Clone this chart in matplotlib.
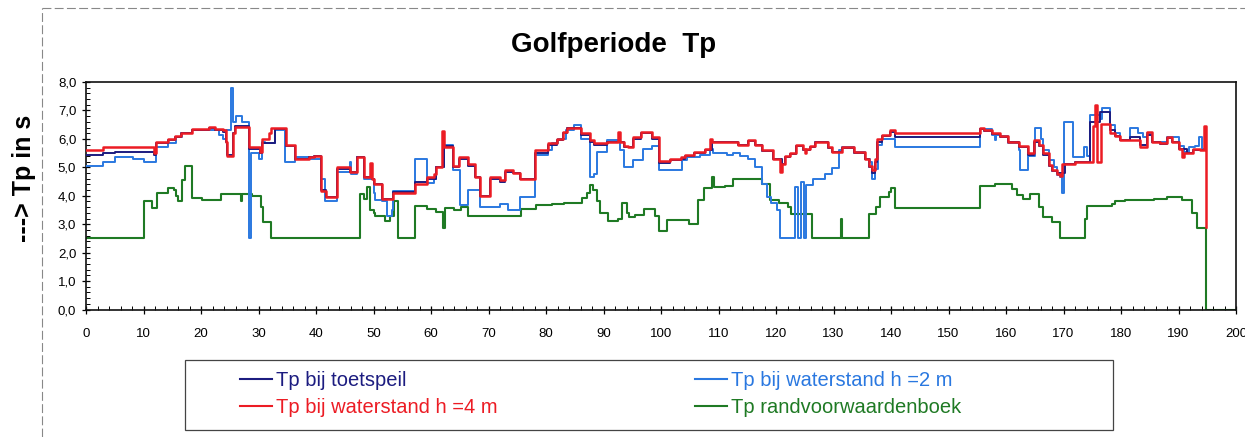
import matplotlib
matplotlib.use('Agg')
import matplotlib.pyplot as plt
from matplotlib.lines import Line2D
from matplotlib.patches import Rectangle
from matplotlib.ticker import MultipleLocator, FuncFormatter

plt.rcParams['font.family'] = ['Liberation Sans', 'DejaVu Sans']

# ---------------- data (step series, value holds from x until next x) ----------------
red_x = [0, 3, 11.8, 12.2, 14.2, 15.4, 16.5, 18.5, 21.4, 22.5, 23.9, 24.3, 24.6, 25.5, 25.9,
         28.4, 30.2, 30.6, 31.8, 32.1, 34.8, 36.3, 38.7, 39.6, 40.8, 41.7, 43.6, 45.9, 47.1,
         48.4, 49.4, 49.7, 50.1, 51.4, 53.4, 57.3, 59.3, 60.5, 60.8, 61.9, 62.2, 63.9, 64.8,
         66.5, 67.7, 68.5, 70.3, 72.0, 72.8, 74.3, 75.5, 78.0, 80.4, 81.9, 83.0, 83.6, 86.0,
         87.7, 88.3, 90.6, 92.6, 92.9, 93.5, 94.3, 95.2, 96.6, 98.4, 99.6, 101.6, 103.4, 104.2,
         105.7, 107.7, 108.5, 108.9, 113.4, 115.2, 116.3, 117.5, 119.5, 120.7, 121.0, 121.5,
         122.4, 123.5, 124.7, 125.0, 125.3, 125.9, 126.8, 129.1, 129.7, 131.4, 133.5, 135.5,
         136.1, 136.7, 137.2, 137.5, 138.4, 139.9, 140.7, 155.5, 156.1, 157.5, 159.0, 160.4,
         162.2, 163.9, 164.8, 165.7, 166.5, 167.4, 168.0, 168.8, 169.4, 169.8, 172.0, 175.1,
         175.5, 175.8, 176.5, 178.1, 179.0, 179.9, 183.3, 184.5, 185.4, 186.8, 188.0, 188.8,
         190.0, 190.6, 190.9, 192.6, 193.8, 194.5, 194.8]
red_y = [5.6, 5.7, 5.5, 5.9, 6.0, 6.1, 6.2, 6.35, 6.42, 6.35, 6.3, 5.9, 5.4, 6.2, 6.42,
         5.7, 5.55, 6.0, 6.2, 6.4, 5.8, 5.3, 5.35, 5.4, 4.15, 3.97, 5.0, 4.85, 5.37,
         4.65, 5.15, 4.6, 4.4, 3.88, 4.1, 4.4, 4.65, 4.75, 5.0, 6.28, 5.7, 5.05, 5.35,
         5.1, 4.65, 4.0, 4.65, 4.55, 4.9, 4.8, 4.6, 5.6, 5.85, 6.0, 6.25, 6.4, 6.2,
         5.95, 5.85, 5.9, 6.25, 5.9, 5.75, 5.7, 6.05, 6.25, 6.05, 5.22, 5.3, 5.35, 5.43,
         5.55, 5.63, 6.0, 5.9, 5.8, 5.95, 5.8, 5.6, 5.3, 4.85, 5.1, 5.4,
         5.5, 5.78, 5.65, 5.5, 5.65, 5.75, 5.9, 5.7, 5.55, 5.7, 5.53, 5.3,
         5.05, 4.9, 5.3, 6.0, 6.15, 6.3, 6.2, 6.37, 6.3, 6.2, 6.1, 5.9,
         5.75, 5.5, 5.96, 5.8, 5.5, 5.08, 4.9, 4.75, 4.7, 5.1, 5.2, 6.45,
         7.2, 5.2, 6.52, 6.2, 6.1, 5.96, 5.72, 6.25, 5.9, 5.85, 6.05, 5.9,
         5.66, 5.35, 5.5, 5.65, 5.6, 6.45, 2.9]

h2_x = [0, 3, 5, 8.2, 10, 12.2, 14.2, 15.7, 16.7, 18.5, 23.2, 23.8, 24.4, 25.2, 25.5, 26.1,
        27.2, 28.4, 28.7, 30.0, 30.6, 31.2, 32.9, 34.6, 36.3, 38.7, 40.9, 41.5, 43.6, 45.9,
        46.1, 47.1, 48.4, 50.0, 50.3, 51.4, 52.3, 53.2, 53.4, 57.3, 59.3, 60.5, 60.8, 62.2,
        63.8, 65.0, 66.5, 68.6, 72.0, 73.4, 75.5, 78.0, 80.4, 81.0, 82.1, 83.4, 84.8, 86.0,
        87.7, 88.3, 88.9, 90.6, 92.9, 93.5, 95.2, 96.9, 98.4, 99.6, 103.7, 104.5, 106.8,
        108.5, 109.1, 111.4, 112.6, 113.7, 115.2, 116.3, 117.5, 118.4, 119.2, 120.1, 120.7,
        123.3, 123.9, 124.4, 124.9, 125.3, 126.5, 128.6, 129.7, 130.9, 131.4, 133.5, 135.5,
        136.4, 136.7, 137.2, 137.8, 138.4, 140.7, 155.5, 157.5, 158.0, 158.3, 159.0, 160.4,
        162.2, 162.5, 163.9, 165.0, 166.0, 166.5, 167.4, 168.3, 168.8, 169.4, 169.7, 170.0,
        171.7, 173.5, 174.0, 174.6, 176.4, 176.7, 178.1, 179.0, 179.9, 181.6, 183.0, 183.9,
        184.5, 185.4, 188.0, 190.0, 190.9, 191.8, 192.9, 193.5, 194.0, 194.8]
h2_y = [5.05, 5.2, 5.35, 5.3, 5.18, 5.72, 5.85, 6.05, 6.2, 6.3, 6.13, 6.0, 6.3, 7.8, 6.6, 6.8,
        6.6, 2.5, 5.5, 5.3, 5.9, 5.85, 6.32, 5.2, 5.37, 5.3, 4.6, 3.8, 4.85, 5.2,
        4.75, 5.35, 4.6, 4.1, 3.85, 3.8, 3.28, 3.5, 4.15, 5.29, 4.45, 4.6, 5.0, 5.78,
        4.9, 3.67, 4.2, 3.62, 3.7, 3.5, 3.96, 5.43, 5.6, 5.85, 6.0, 6.3, 6.48, 6.0,
        4.67, 4.78, 5.55, 5.95, 5.6, 5.0, 5.25, 5.63, 5.75, 4.9, 5.25, 5.35, 5.45,
        5.63, 5.49, 5.45, 5.5, 5.4, 5.3, 5.02, 4.4, 3.96, 3.73, 3.49, 2.5,
        4.3, 2.5, 4.5, 2.5, 4.37, 4.6, 4.78, 4.96, 5.6, 5.7, 5.55, 5.3,
        5.2, 4.6, 4.95, 5.8, 6.0, 5.7, 6.35, 6.15, 5.95, 6.15, 6.1, 5.85,
        5.6, 4.9, 5.4, 6.37, 6.0, 5.6, 5.25, 5.0, 4.72, 4.65, 4.1, 6.6,
        5.37, 5.7, 5.4, 6.85, 6.7, 7.1, 6.5, 6.2, 5.95, 6.37, 6.2, 6.05,
        6.2, 5.9, 6.05, 5.75, 5.55, 5.7, 5.75, 6.05, 5.65, 5.65]

toets_x = [0, 3, 5, 11.8, 12.2, 14.2, 15.4, 16.5, 18.5, 21.4, 22.5, 23.9, 24.3, 24.6, 25.5,
           25.9, 28.4, 30.2, 30.6, 32.9, 34.8, 36.3, 38.7, 39.6, 40.8, 41.7, 43.6, 45.9, 47.1,
           48.4, 49.7, 50.1, 51.4, 53.4, 57.3, 59.3, 60.8, 62.2, 63.9, 64.8, 66.5, 67.7, 68.5,
           70.3, 72.0, 72.8, 74.3, 75.5, 78.0, 80.4, 81.9, 83.0, 83.6, 86.0, 87.7, 88.3, 90.6,
           93.5, 95.2, 96.6, 98.4, 99.6, 101.6, 103.4, 104.2, 105.7, 107.7, 108.9, 113.4, 115.2,
           116.3, 117.5, 119.5, 121.0, 121.5, 122.4, 123.5, 124.7, 125.9, 126.8, 129.1, 129.7,
           131.4, 133.5, 135.5, 136.1, 136.7, 137.2, 137.5, 138.4, 139.9, 140.7, 155.5, 156.1,
           157.5, 159.0, 160.4, 162.2, 163.9, 164.8, 165.7, 166.5, 167.4, 168.0, 168.8, 170.3,
           172.0, 174.6, 176.3, 178.1, 179.0, 179.9, 181.6, 183.3, 184.5, 185.4, 186.8, 188.0,
           188.8, 190.0, 191.4, 192.6, 194.8]
toets_y = [5.45, 5.5, 5.55, 5.45, 5.85, 5.95, 6.05, 6.2, 6.32, 6.38, 6.3, 6.25, 5.9, 5.45, 6.2,
           6.45, 5.65, 5.5, 5.85, 6.35, 5.75, 5.3, 5.35, 5.4, 4.2, 3.97, 4.95, 4.85, 5.35,
           4.65, 4.6, 4.4, 3.88, 4.12, 4.5, 4.6, 5.0, 5.75, 5.0, 5.3, 5.05, 4.65, 4.0,
           4.6, 4.5, 4.85, 4.8, 4.6, 5.5, 5.8, 5.95, 6.2, 6.38, 6.15, 5.9, 5.8, 5.88,
           5.7, 6.0, 6.2, 6.0, 5.15, 5.25, 5.3, 5.4, 5.5, 5.6, 5.88, 5.78, 5.92,
           5.78, 5.58, 5.28, 5.1, 5.38, 5.48, 5.75, 5.62, 5.72, 5.88, 5.68, 5.53,
           5.68, 5.5, 5.28, 5.0, 4.8, 5.2, 5.9, 6.1, 6.25, 6.05, 6.35, 6.28,
           6.18, 6.08, 5.88, 5.72, 5.45, 5.9, 5.75, 5.45, 5.05, 4.88, 4.8, 5.12,
           5.18, 6.6, 6.95, 6.3, 6.1, 5.95, 6.05, 5.8, 6.15, 5.88, 5.82, 6.02,
           5.88, 5.65, 5.5, 5.62, 5.6]

rand_x = [0, 10, 11.5, 12.3, 14.2, 15.3, 15.7, 16.0, 16.7, 17.3, 18.4, 20.2, 23.4, 27.0, 27.2,
          28.9, 30.4, 30.8, 32.1, 47.7, 48.4, 48.8, 49.4, 50.0, 50.3, 52.0, 52.9, 53.5, 54.2,
          57.3, 59.3, 60.8, 62.1, 62.4, 64.0, 65.2, 66.5, 75.6, 78.3, 81.0, 83.1, 86.2, 87.1,
          87.6, 88.2, 88.9, 89.4, 90.7, 92.6, 93.3, 94.1, 94.5, 95.5, 97.0, 99.0, 99.6, 101.1,
          104.8, 106.5, 107.5, 108.8, 109.2, 111.1, 112.5, 117.5, 119.0, 120.6, 122.1, 122.6,
          126.2, 131.3, 131.5, 136.1, 137.4, 138.1, 139.6, 140.0, 140.7, 155.5, 158.1, 161.0,
          161.9, 162.9, 164.2, 165.7, 166.5, 168.0, 169.4, 173.7, 174.1, 178.4, 179.0, 180.7,
          185.7, 188.0, 190.6, 192.3, 193.2, 194.8, 200.0]
rand_y = [2.5, 3.8, 3.58, 4.08, 4.28, 4.2, 4.0, 3.8, 4.55, 5.05, 3.92, 3.85, 4.05, 3.8, 4.05,
          4.0, 3.6, 3.08, 2.5, 4.05, 3.9, 4.3, 3.5, 3.4, 3.28, 3.1, 3.3, 3.8, 2.5,
          3.65, 3.53, 3.42, 2.85, 3.58, 3.5, 3.6, 3.28, 3.55, 3.67, 3.7, 3.75, 3.93, 4.1,
          4.37, 4.2, 3.8, 3.38, 3.1, 3.2, 3.73, 3.4, 3.25, 3.32, 3.55, 3.3, 2.75, 3.14,
          3.0, 3.85, 4.26, 4.65, 4.3, 4.35, 4.6, 4.4, 3.85, 3.75, 3.6, 3.35,
          2.5, 3.2, 2.5, 3.35, 3.6, 3.96, 4.14, 4.26, 3.58, 4.36, 4.4, 4.25,
          4.02, 3.87, 4.05, 3.6, 3.26, 3.08, 2.5, 3.2, 3.65, 3.7, 3.8, 3.85,
          3.9, 3.95, 3.85, 3.4, 2.85, 0.0, 0.0]

labels = ['Tp bij toetspeil', 'Tp bij waterstand h =2 m',
          'Tp bij waterstand h =4 m', 'Tp randvoorwaardenboek']
title = 'Golfperiode  Tp'
ylabel = '---> Tp in s'

c_toets = '#1c1c80'
c_h2 = '#2a78e0'
c_h4 = '#ec1c24'
c_rand = '#1f7a24'

# ---------------- figure ----------------
W, H = 1245, 437
fig = plt.figure(figsize=(W / 100, H / 100), dpi=100)
fig.patch.set_facecolor('white')

L, R, T, B = 86, 1236, 82, 309.5
ax = fig.add_axes([L / W, 1 - B / H, (R - L) / W, (B - T) / H])

ax.step(rand_x, rand_y, where='post', color=c_rand, lw=1.5, zorder=2)
ax.step(h2_x, h2_y, where='post', color=c_h2, lw=1.4, zorder=3)
ax.step(toets_x, toets_y, where='post', color=c_toets, lw=1.4, zorder=4)
ax.step(red_x, red_y, where='post', color=c_h4, lw=1.8, zorder=5)

ax.set_xlim(0, 200)
ax.set_ylim(0, 8)
ax.xaxis.set_major_locator(MultipleLocator(10))
ax.xaxis.set_minor_locator(MultipleLocator(2))
ax.yaxis.set_major_locator(MultipleLocator(1))
ax.yaxis.set_minor_locator(MultipleLocator(0.2))
ax.yaxis.set_major_formatter(FuncFormatter(lambda v, p: f'{v:.1f}'.replace('.', ',')))
ax.tick_params(axis='both', which='major', direction='inout', length=6, width=0.9,
               labelsize=9.5, colors='black')
ax.tick_params(axis='both', which='minor', direction='in', length=3, width=0.7)
ax.tick_params(axis='x', which='major', pad=10)
ax.tick_params(axis='y', which='major', pad=4)
for s in ax.spines.values():
    s.set_linewidth(1.2)
    s.set_color('#111111')

fig.text(614 / W, 1 - 45 / H, title, ha='center', va='center', fontsize=20,
         fontweight='bold')
fig.text(24 / W, 1 - 178 / H, ylabel, ha='center', va='center', rotation=90,
         fontsize=18, fontweight='bold')

# outer frame (scanned page border)
fig.add_artist(Line2D([42 / W, 1.0], [1 - 8 / H, 1 - 8 / H], transform=fig.transFigure,
                      color='#888888', lw=0.8, ls=(0, (8, 3))))
fig.add_artist(Line2D([42 / W, 42 / W], [0, 1 - 8 / H], transform=fig.transFigure,
                      color='#888888', lw=0.8, ls=(0, (8, 3))))

# legend box
fig.add_artist(Rectangle((185 / W, 1 - 430 / H), (1113 - 185) / W, (430 - 360) / H,
                         transform=fig.transFigure, fill=False, edgecolor='#444444', lw=0.9))

handles = [Line2D([], [], color=c_toets, lw=1.5),
           Line2D([], [], color=c_h4, lw=1.5),
           Line2D([], [], color=c_h2, lw=1.5),
           Line2D([], [], color=c_rand, lw=1.5)]
leg_labels = [labels[0], labels[2], labels[1], labels[3]]
leg = fig.legend(handles, leg_labels, ncol=2, loc='center left',
                 bbox_to_anchor=(240 / W, 1 - 394 / H), frameon=False, fontsize=14.5,
                 handlelength=1.6, handletextpad=0.2, columnspacing=9.8,
                 labelspacing=0.4, borderpad=0, borderaxespad=0)
for txt, c in zip(leg.get_texts(), [c_toets, c_h4, c_h2, c_rand]):
    txt.set_color(c)

fig.savefig('out.png', dpi=100)
